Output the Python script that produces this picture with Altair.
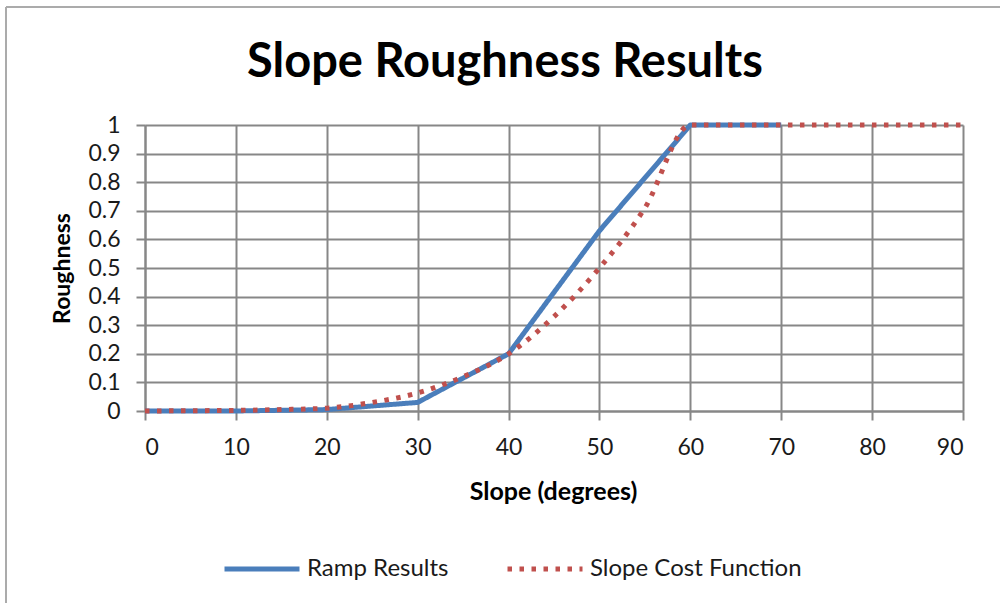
import altair as alt
import pandas as pd

# Series names (legend order)
series_names = ["Ramp Results", "Slope Cost Function"]

# Ramp Results: roughness sampled every 10 degrees
ramp_slope = [0, 10, 20, 30, 40, 50, 60, 70]
ramp_rough = [0, 0, 0.005, 0.03, 0.2, 0.63, 1, 1]

# Slope Cost Function: roughness sampled every 5 degrees up to 60, then flat
cost_slope = [0, 5, 10, 15, 20, 25, 30, 35, 40, 45, 50, 55, 60, 70, 80, 90]
cost_rough = [0, 0.001, 0.002, 0.005, 0.01, 0.03, 0.063, 0.12, 0.2, 0.33, 0.5, 0.71, 1, 1, 1, 1]

x_ticks = list(range(0, 100, 10))
y_ticks = [round(i * 0.1, 1) for i in range(11)]

BLUE = "#4A7EBB"
RED = "#C0504D"
GRID = "#878787"
FONT = "Lato"
TEXT = "#1a1a1a"

ramp_df = pd.DataFrame({"slope": ramp_slope, "rough": ramp_rough, "series": series_names[0]})
cost_df = pd.DataFrame({"slope": cost_slope, "rough": cost_rough, "series": series_names[1]})

legend = alt.Legend(
    title=None,
    orient="none",
    direction="horizontal",
    legendX=77,
    legendY=404,
    symbolType="stroke",
    symbolSize=5625,
    symbolStrokeWidth=5,
    labelFont=FONT,
    labelFontSize=24,
    labelColor=TEXT,
    labelOffset=5,
    labelLimit=0,
    columnPadding=48,
    padding=0,
)

x_enc = alt.X(
    "slope:Q",
    scale=alt.Scale(domain=[0, 90], nice=False),
    axis=alt.Axis(
        values=x_ticks,
        title="Slope (degrees)",
        titleX=408,
        titleY=80,
        titleAlign="center",
        titleBaseline="middle",
        titleFontSize=25,
    ),
)
y_enc = alt.Y(
    "rough:Q",
    scale=alt.Scale(domain=[0, 1], nice=False),
    axis=alt.Axis(
        values=y_ticks,
        format=".1~f",
        title="Roughness",
        titleAngle=-90,
        titleX=-83,
        titleY=143,
        titleAlign="center",
        titleBaseline="middle",
        titleFontSize=23,
    ),
)
color_enc = alt.Color(
    "series:N",
    scale=alt.Scale(domain=series_names, range=[BLUE, RED]),
    legend=legend,
)
dash_enc = alt.StrokeDash(
    "series:N",
    scale=alt.Scale(domain=series_names, range=[[1, 0], [4.5, 7.5]]),
    legend=legend,
)

ramp_line = (
    alt.Chart(ramp_df)
    .mark_line(strokeWidth=5, strokeJoin="round")
    .encode(x=x_enc, y=y_enc, color=color_enc, strokeDash=dash_enc)
)
cost_line = (
    alt.Chart(cost_df)
    .mark_line(strokeWidth=5, interpolate="monotone")
    .encode(x=x_enc, y=y_enc, color=color_enc, strokeDash=dash_enc)
)

# Outer frame: left and top edges
frame_df = pd.DataFrame({"k": [0]})
frame_left = alt.Chart(frame_df).mark_rule(color="#ababab", strokeWidth=2).encode(
    x=alt.value(-139), y=alt.value(-118), y2=alt.value(480)
)
frame_top = alt.Chart(frame_df).mark_rule(color="#ababab", strokeWidth=2).encode(
    x=alt.value(-139), x2=alt.value(860), y=alt.value(-118)
)

chart = (
    alt.layer(frame_left, frame_top, ramp_line, cost_line)
    .properties(
        width=818,
        height=286,
        autosize=alt.AutoSizeParams(type="none"),
        padding={"left": 145, "top": 125, "right": 37, "bottom": 192},
        background="white",
        title=alt.TitleParams(
            "Slope Roughness Results",
            font=FONT,
            fontSize=47,
            fontWeight="bold",
            color="black",
            anchor="middle",
            frame="group",
            dx=-49,
            offset=-81,
        ),
    )
    .configure_view(stroke=None)
    .configure_axis(
        grid=True,
        gridColor=GRID,
        gridWidth=2,
        gridOpacity=1,
        domainColor=GRID,
        domainWidth=2,
        tickColor=GRID,
        tickWidth=2,
        tickSize=9,
        labelFont=FONT,
        labelFontSize=23,
        labelColor=TEXT,
        titleFont=FONT,
        titleFontWeight="bold",
        titleColor="black",
    )
    .configure_axisX(labelPadding=16)
    .configure_axisY(labelPadding=16)
)

chart.save("out.html", embed_options={"renderer": "svg", "actions": False})
